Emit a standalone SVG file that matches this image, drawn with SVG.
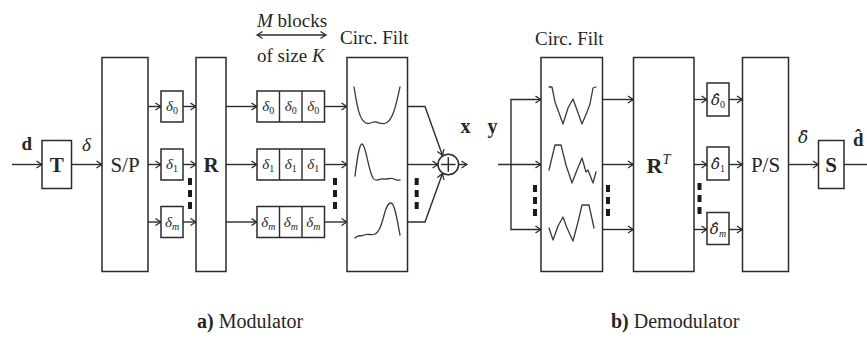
<svg xmlns="http://www.w3.org/2000/svg" width="867" height="339" viewBox="0 0 867 339">
<style>
  .box { fill: #ffffff; stroke: #2b2b2b; stroke-width: 1.5; }
  .ln { fill: none; stroke: #2b2b2b; stroke-width: 1.4; }
  .arr { fill: none; stroke: #2b2b2b; stroke-width: 1.4; marker-end: url(#ah); }
  .curve { fill: none; stroke: #3a3a3a; stroke-width: 1.3; stroke-linejoin: round; stroke-linecap: round; }
  .dots { fill: none; stroke: #1a1a1a; stroke-width: 4; stroke-dasharray: 7 5; }
  text { font-family: "Liberation Serif", "DejaVu Serif", serif; fill: #262626; }
  .big { font-size: 21px; text-anchor: middle; }
  .bold { font-weight: bold; }
  .it { font-style: italic; }
  .sm { font-size: 15px; font-style: italic; text-anchor: middle; }
  .dj { font-family: "DejaVu Serif", serif; }
  .sub { font-size: 10px; font-style: normal; font-family: "Liberation Serif", serif; }
  .subi { font-size: 10px; font-style: italic; font-family: "Liberation Serif", serif; }
  .hdr { font-size: 19px; }
  .cap { font-size: 20px; }
</style>
<defs>
  <marker id="ah" viewBox="-7 -5 10 10" refX="0" refY="0" markerWidth="10" markerHeight="10" markerUnits="userSpaceOnUse" orient="auto-start-reverse">
    <path d="M-5.5,-3.5 Q-1.5,-0.8 0,0 Q-1.5,0.8 -5.5,3.5" fill="none" stroke="#2b2b2b" stroke-width="1.3"/>
  </marker>
</defs>

<g id="connectors">
  <!-- Modulator -->
  <line class="arr" x1="12" y1="164.5" x2="42" y2="164.5"/>
  <line class="arr" x1="71.5" y1="164.5" x2="102" y2="164.5"/>
  <line class="arr" x1="148" y1="106.5" x2="161" y2="106.5"/>
  <line class="arr" x1="148" y1="164.5" x2="161" y2="164.5"/>
  <line class="arr" x1="148" y1="222" x2="161" y2="222"/>
  <line class="arr" x1="183" y1="106.5" x2="196" y2="106.5"/>
  <line class="arr" x1="183" y1="164.5" x2="196" y2="164.5"/>
  <line class="arr" x1="183" y1="222" x2="196" y2="222"/>
  <line class="arr" x1="226" y1="106.5" x2="257" y2="106.5"/>
  <line class="arr" x1="226" y1="164.5" x2="257" y2="164.5"/>
  <line class="arr" x1="226" y1="222" x2="257" y2="222"/>
  <line class="arr" x1="324.5" y1="106.5" x2="347" y2="106.5"/>
  <line class="arr" x1="324.5" y1="164.5" x2="347" y2="164.5"/>
  <line class="arr" x1="324.5" y1="222" x2="347" y2="222"/>
  <polyline class="arr" points="407.5,106.5 425,106.5 442.5,155.5"/>
  <line class="arr" x1="407.5" y1="164.5" x2="438" y2="164.5"/>
  <polyline class="arr" points="407.5,222 425,222 442.5,173.5"/>
  <line class="arr" x1="458.6" y1="164.5" x2="467" y2="164.5"/>
  <line class="arr" x1="257" y1="35" x2="326" y2="35" style="marker-start:url(#ah)"/>
  <!-- Demodulator -->
  <line class="arr" x1="498" y1="164.5" x2="541" y2="164.5"/>
  <polyline class="arr" points="511,164.5 511,99.5 541,99.5"/>
  <polyline class="arr" points="511,164.5 511,229.5 541,229.5"/>
  <line class="arr" x1="602.5" y1="99.5" x2="633.5" y2="99.5"/>
  <line class="arr" x1="602.5" y1="164.5" x2="633.5" y2="164.5"/>
  <line class="arr" x1="602.5" y1="229.5" x2="633.5" y2="229.5"/>
  <line class="arr" x1="694" y1="99.5" x2="707" y2="99.5"/>
  <line class="arr" x1="694" y1="164.5" x2="707" y2="164.5"/>
  <line class="arr" x1="694" y1="229.5" x2="707" y2="229.5"/>
  <line class="arr" x1="729" y1="99.5" x2="742.5" y2="99.5"/>
  <line class="arr" x1="729" y1="164.5" x2="742.5" y2="164.5"/>
  <line class="arr" x1="729" y1="229.5" x2="742.5" y2="229.5"/>
  <line class="arr" x1="788.5" y1="164.5" x2="818.5" y2="164.5"/>
  <line class="ln" x1="844" y1="164.5" x2="867" y2="164.5"/>
  <!-- edge labels -->
  <text class="bold" x="21.5" y="150" font-size="19">d</text>
  <text class="it" x="82" y="151" font-size="19">δ</text>
  <text class="bold" x="460.5" y="133" font-size="20">x</text>
  <text class="bold" x="487.5" y="133" font-size="20">y</text>
  <text class="it dj" x="798" y="143" font-size="17">δ̂</text>
  <text class="bold" x="853" y="146" font-size="19">d̂</text>
  <!-- ellipsis dots -->
  <line class="dots" x1="190" y1="178" x2="190" y2="212"/>
  <line class="dots" x1="335" y1="178" x2="335" y2="212"/>
  <line class="dots" x1="416.7" y1="178" x2="416.7" y2="212"/>
  <line class="dots" x1="535" y1="185" x2="535" y2="219"/>
  <line class="dots" x1="608" y1="185" x2="608" y2="219"/>
  <line class="dots" x1="699.5" y1="183" x2="699.5" y2="217"/>
</g>

<g id="T">
  <rect class="box" x="42" y="140.5" width="29.5" height="48"/>
  <text class="big bold" x="56.8" y="172" font-size="20">T</text>
</g>
<g id="SP">
  <rect class="box" x="102" y="57.5" width="46" height="214"/>
  <text class="big" x="125" y="172">S/P</text>
</g>
<g id="delta0">
  <rect class="box" x="161" y="91" width="22" height="31"/>
  <text class="sm" x="172" y="111">δ<tspan class="sub" dy="3">0</tspan></text>
</g>
<g id="delta1">
  <rect class="box" x="161" y="149" width="22" height="31"/>
  <text class="sm" x="172" y="169">δ<tspan class="sub" dy="3">1</tspan></text>
</g>
<g id="deltam">
  <rect class="box" x="161" y="206.5" width="22" height="31"/>
  <text class="sm" x="172" y="226.5">δ<tspan class="subi" dy="3">m</tspan></text>
</g>
<g id="R">
  <rect class="box" x="196" y="57.5" width="30" height="214"/>
  <text class="big bold" x="211" y="172" font-size="22">R</text>
</g>
<g id="blocks0">
  <rect class="box" x="257" y="91" width="67.5" height="31"/>
  <line class="ln" x1="279.5" y1="91" x2="279.5" y2="122"/>
  <line class="ln" x1="302" y1="91" x2="302" y2="122"/>
  <text class="sm" x="268.3" y="111">δ<tspan class="sub" dy="3">0</tspan></text>
  <text class="sm" x="290.8" y="111">δ<tspan class="sub" dy="3">0</tspan></text>
  <text class="sm" x="313.3" y="111">δ<tspan class="sub" dy="3">0</tspan></text>
</g>
<g id="blocks1">
  <rect class="box" x="257" y="149" width="67.5" height="31"/>
  <line class="ln" x1="279.5" y1="149" x2="279.5" y2="180"/>
  <line class="ln" x1="302" y1="149" x2="302" y2="180"/>
  <text class="sm" x="268.3" y="169">δ<tspan class="sub" dy="3">1</tspan></text>
  <text class="sm" x="290.8" y="169">δ<tspan class="sub" dy="3">1</tspan></text>
  <text class="sm" x="313.3" y="169">δ<tspan class="sub" dy="3">1</tspan></text>
</g>
<g id="blocksm">
  <rect class="box" x="257" y="206.5" width="67.5" height="31"/>
  <line class="ln" x1="279.5" y1="206.5" x2="279.5" y2="237.5"/>
  <line class="ln" x1="302" y1="206.5" x2="302" y2="237.5"/>
  <text class="sm" x="268.3" y="226.5">δ<tspan class="subi" dy="3">m</tspan></text>
  <text class="sm" x="290.8" y="226.5">δ<tspan class="subi" dy="3">m</tspan></text>
  <text class="sm" x="313.3" y="226.5">δ<tspan class="subi" dy="3">m</tspan></text>
</g>
<g id="blocks-label">
  <text class="hdr" x="257" y="27"><tspan class="it">M</tspan> blocks</text>
  <text class="hdr" x="257" y="62">of size <tspan class="it">K</tspan></text>
</g>
<g id="circ-mod">
  <text class="hdr" x="340" y="44">Circ. Filt</text>
  <rect class="box" x="347" y="57.5" width="60.5" height="214"/>
  <path class="curve" d="M354,87 C357,105 359,120 366,123 C370,125 372,121 376,122 C380,123 382,125 386,123 C393,120 396,105 400,87"/>
  <path class="curve" d="M355,176 C357,160 359,144 362,144 C366,144 368,170 373,178 C376,183 379,178 383,179 C387,180 390,177 394,179 C397,181 399,180 400,180"/>
  <path class="curve" d="M355,238 C358,234 361,237 364,235 C368,233 371,236 375,234 C380,232 382,222 385,212 C387,205 389,203 391,203 C395,203 398,225 400,235"/>
</g>
<g id="sum">
  <circle class="box" cx="448.3" cy="164.5" r="10.3"/>
  <line class="ln" x1="441" y1="164.5" x2="455.6" y2="164.5"/>
  <line class="ln" x1="448.3" y1="157.2" x2="448.3" y2="171.8"/>
</g>

<g id="circ-demod">
  <text class="hdr" x="535" y="45">Circ. Filt</text>
  <rect class="box" x="541" y="57.5" width="61.5" height="214"/>
  <path class="curve" d="M549,87 L552,87 L555,102 L559,113 L563,124 L568,108 L573,99 L577,110 L582,124 L587,112 L590,104 L593,88 L596,87"/>
  <path class="curve" d="M549,170 L555,145 L561,145 L566,165 L569,174 L572,183 L577,170 L582,158 L586,172 L588,170 L593,183 L596,172"/>
  <path class="curve" d="M549,228 L553,240 L558,226 L563,217 L567,228 L573,241 L578,222 L582,205 L589,205 L594,228"/>
</g>
<g id="RT">
  <rect class="box" x="633.5" y="57.5" width="60.5" height="214"/>
  <text x="646.5" y="173" font-size="22" class="bold">R<tspan class="it" font-weight="normal" font-size="14" dy="-9">T</tspan></text>
</g>
<g id="dhat0">
  <rect class="box" x="707" y="83" width="22" height="33"/>
  <text class="sm dj" x="718" y="105" font-size="13">δ̂<tspan class="sub" dy="3">0</tspan></text>
</g>
<g id="dhat1">
  <rect class="box" x="707" y="147" width="22" height="33"/>
  <text class="sm dj" x="718" y="169" font-size="13">δ̂<tspan class="sub" dy="3">1</tspan></text>
</g>
<g id="dhatm">
  <rect class="box" x="707" y="212.5" width="22" height="32"/>
  <text class="sm dj" x="718" y="234" font-size="13">δ̂<tspan class="subi" dy="3">m</tspan></text>
</g>
<g id="PS">
  <rect class="box" x="742.5" y="57.5" width="46" height="214"/>
  <text class="big" x="765.5" y="172">P/S</text>
</g>
<g id="S">
  <rect class="box" x="818.5" y="140.5" width="25.5" height="48"/>
  <text class="big bold" x="831.2" y="172" font-size="20">S</text>
</g>

<g id="captions">
  <text class="cap" x="197" y="328"><tspan class="bold">a)</tspan> Modulator</text>
  <text class="cap" x="611" y="328"><tspan class="bold">b)</tspan> Demodulator</text>
</g>
</svg>
